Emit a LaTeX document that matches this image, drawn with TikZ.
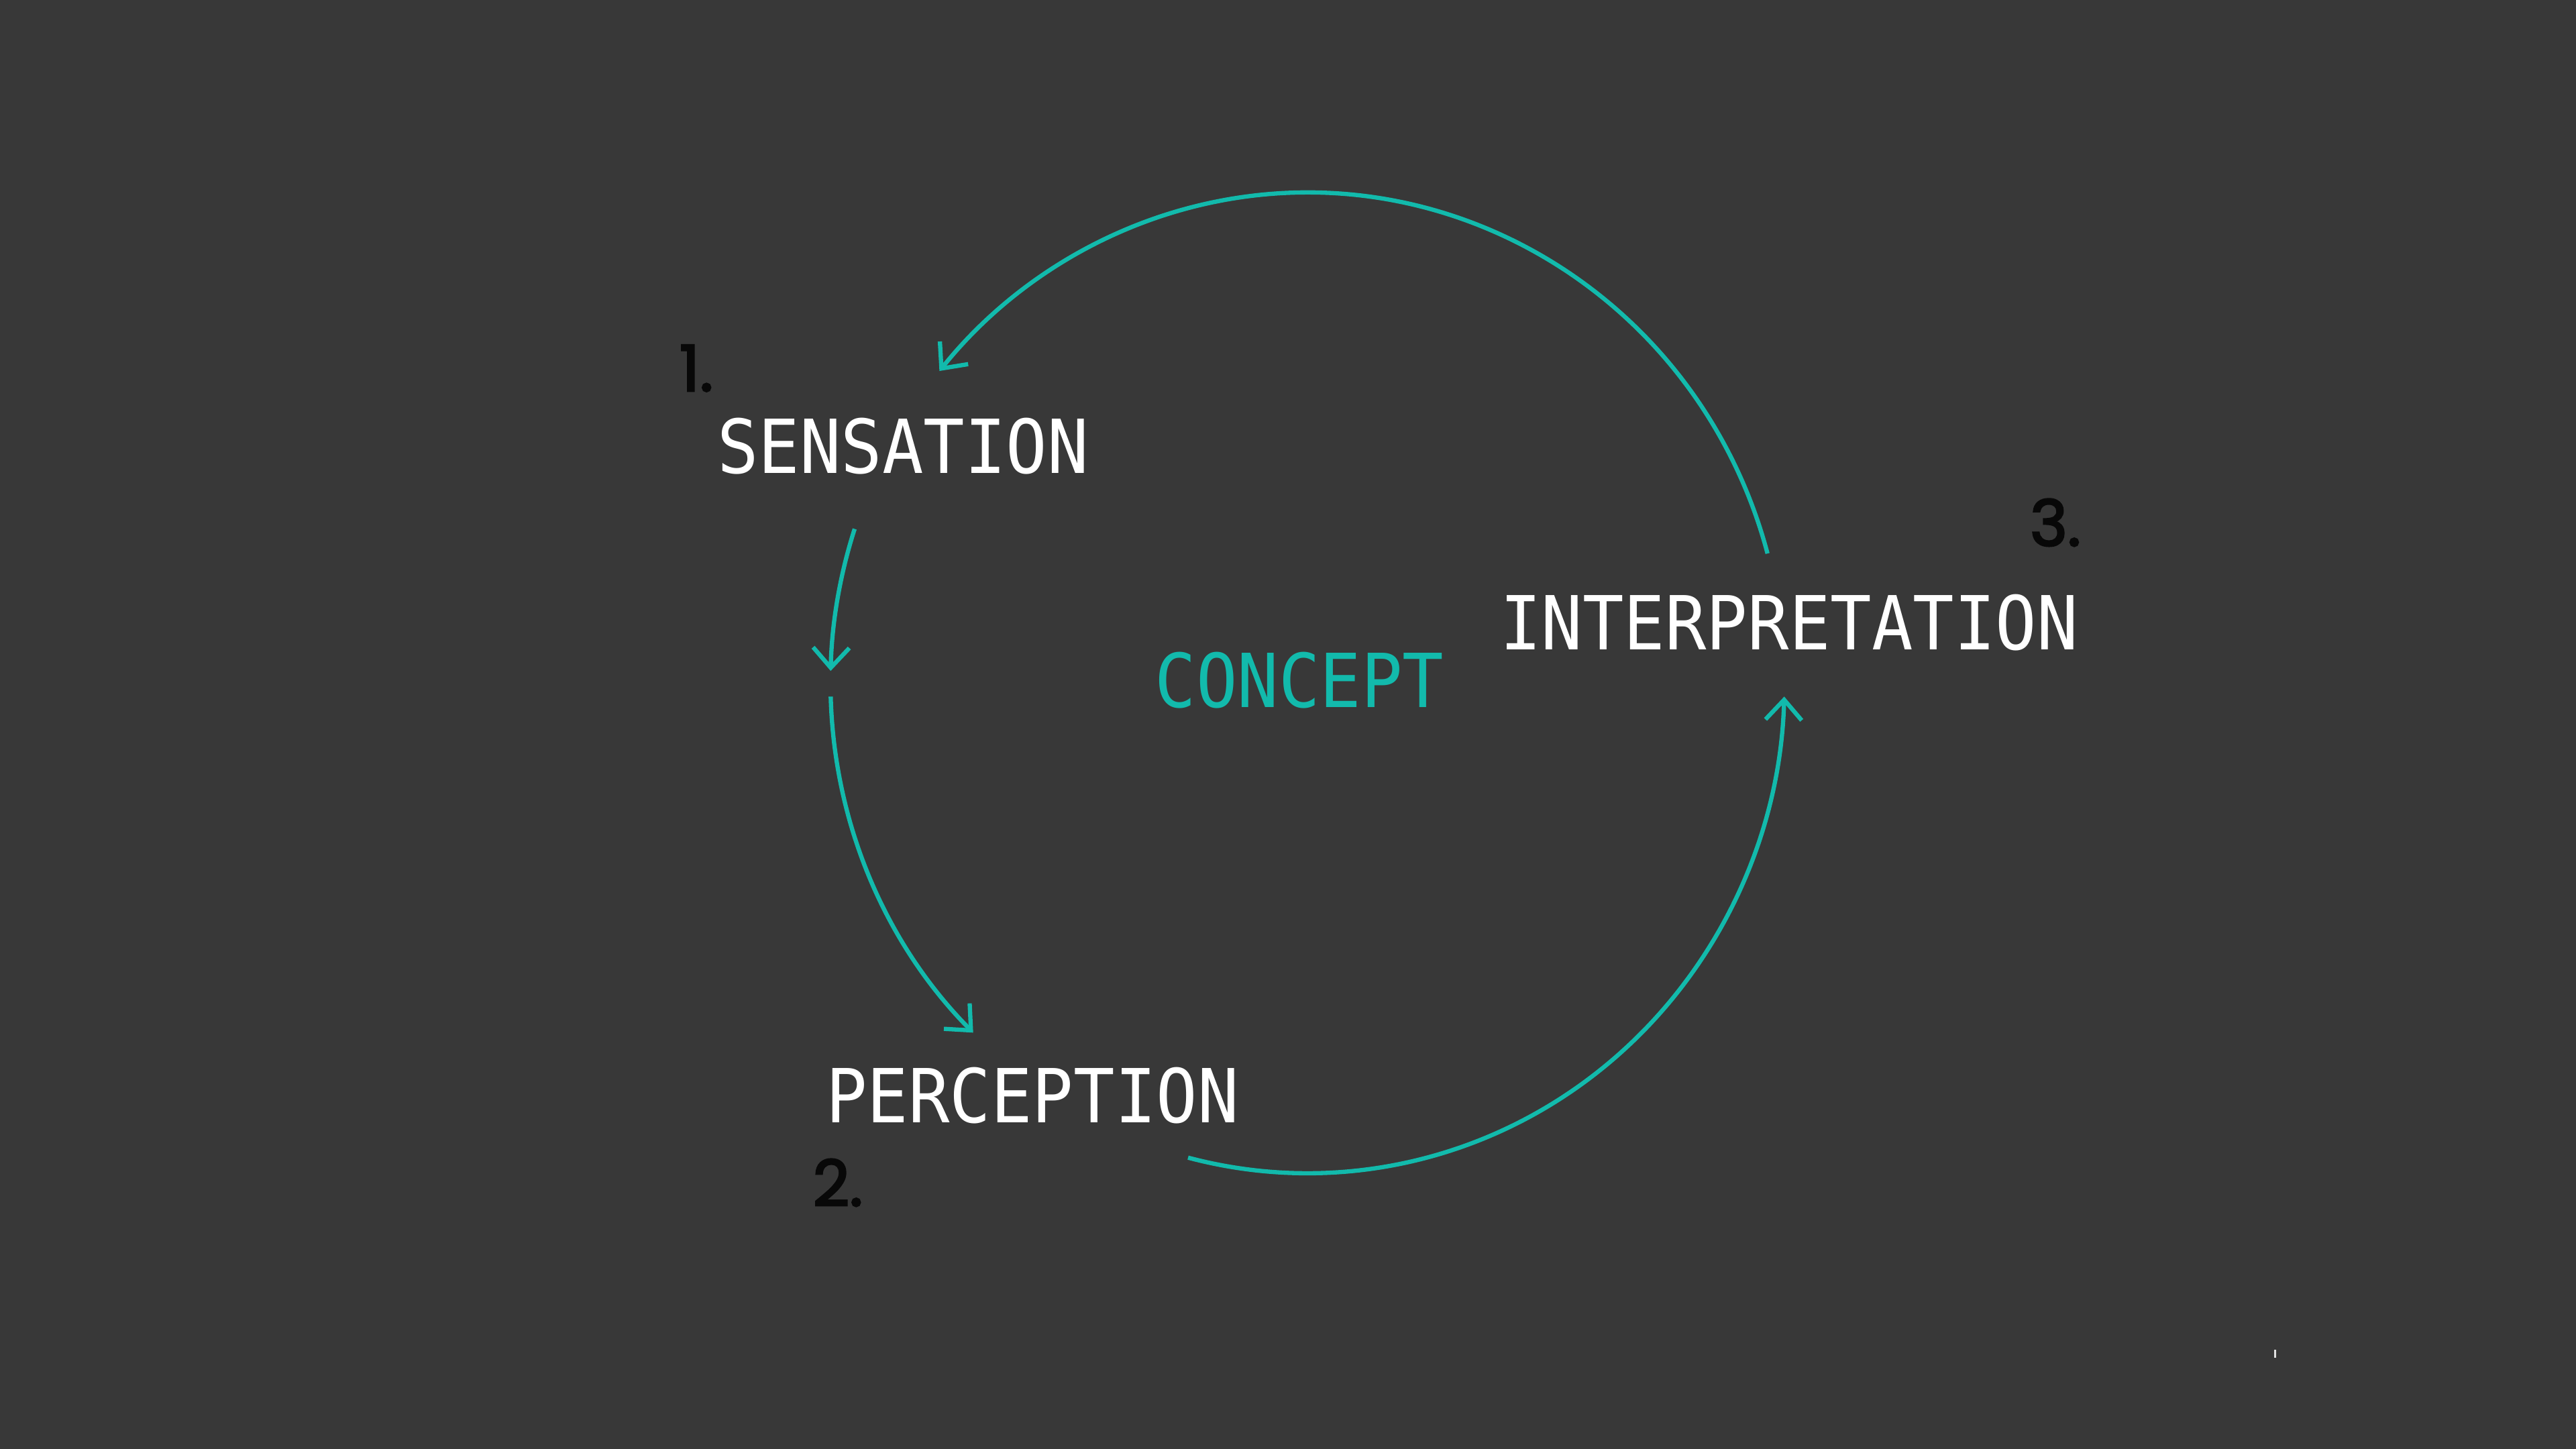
\documentclass[tikz,border=0pt]{standalone}
\usepackage{fontspec}
\usetikzlibrary{arrows.meta,calc}
\newfontfamily\labelfont[FakeStretch=0.92]{DejaVu Sans Mono}
\newfontfamily\numfont[FakeBold=3]{Poppins}
\definecolor{bgc}{RGB}{56,56,56}
\definecolor{teal}{RGB}{18,186,172}
\definecolor{numc}{RGB}{8,8,8}
\tikzset{
  lbl/.style={text=white, font=\labelfont\fontsize{31.6}{36}\selectfont, inner sep=0pt},
  concept/.style={lbl, text=teal},
  num/.style={text=numc, font=\numfont\fontsize{27}{30}\selectfont, inner sep=0pt},
  flow/.style={draw=teal, line width=1.8pt, -{Straight Barb[length=3mm,width=5.4mm,line width=1.8pt]}}
}
\begin{document}
\begin{tikzpicture}
\fill[bgc] (0,0) rectangle (38.4,21.6);
\useasboundingbox (0,0) rectangle (38.4,21.6);
\coordinate (c) at (19.49,11.42);
\node[num] (n1) at (10.38,16.11) {1.};
\node[lbl] (sens) at (13.46,14.95) {SENSATION};
\node[lbl] (perc) at (15.39,5.27) {PERCEPTION};
\node[num] (n2) at (12.49,3.97) {2.};
\node[lbl] (interp) at (26.67,12.32) {INTERPRETATION};
\node[num] (n3) at (30.64,13.81) {3.};
\node[concept] (conc) at (19.37,11.46) {CONCEPT};
% arcs on the cycle ellipse around (c)
\draw[flow] ($(c)+(15.3:7.11 and 7.31)$) arc[start angle=15.3, end angle=140.5, x radius=7.11, y radius=7.31];
\draw[flow] ($(c)+(161.7:7.11 and 7.31)$) arc[start angle=161.7, end angle=178.6, x radius=7.11, y radius=7.31];
\draw[flow] ($(c)+(181.6:7.11 and 7.31)$) arc[start angle=181.6, end angle=225.5, x radius=7.11, y radius=7.31];
\draw[flow] ($(c)+(255.5:7.11 and 7.31)$) arc[start angle=255.5, end angle=358.4, x radius=7.11, y radius=7.31];
\fill[white!85!bgc] (33.90,1.36) rectangle (33.93,1.48);
\end{tikzpicture}
\end{document}
